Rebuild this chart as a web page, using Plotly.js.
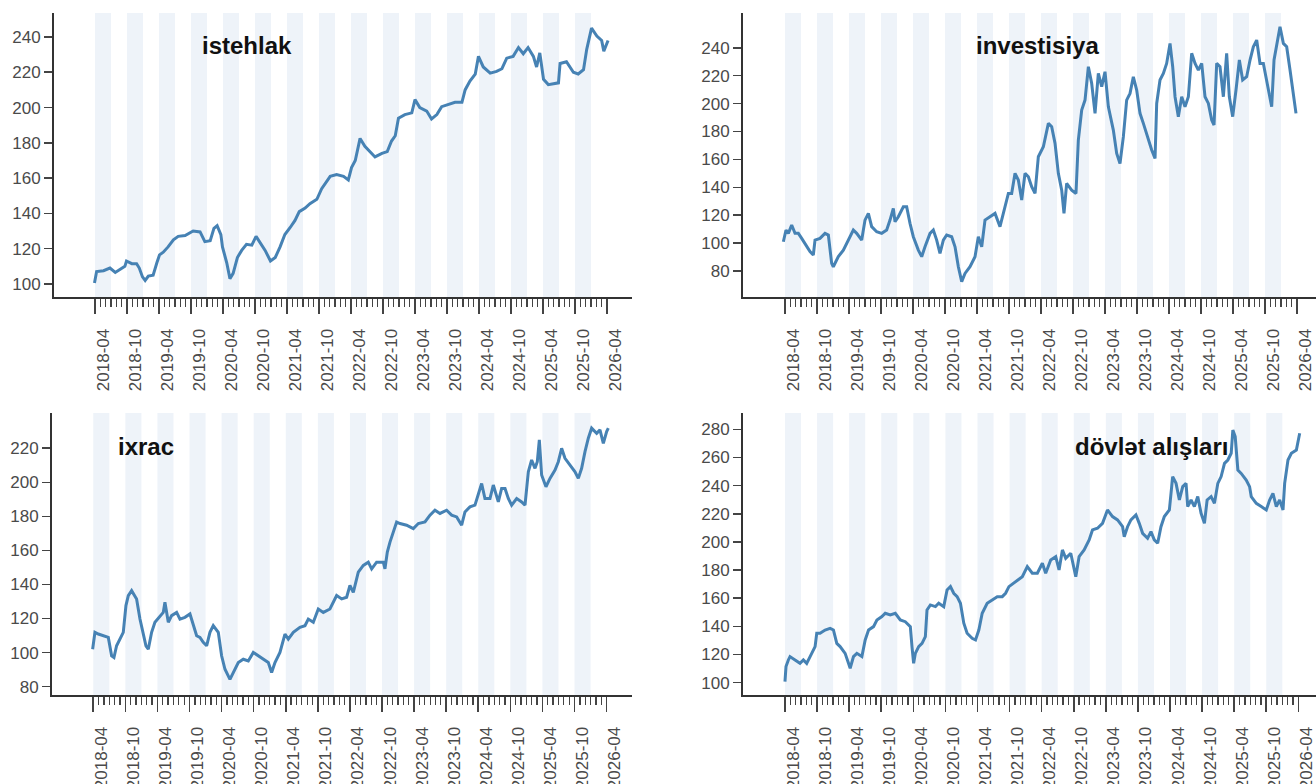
<!DOCTYPE html>
<html>
<head>
<meta charset="utf-8">
<script src="https://cdn.plot.ly/plotly-3.0.1.min.js"></script>
<style>
html,body{margin:0;padding:0;background:#fff;}
#chart{width:1316px;height:784px;}
</style>
</head>
<body>
<div id="chart"></div>
<script>
// time axis: months since 2018-04
const tickMonths = [0,6,12,18,24,30,36,42,48,54,60,66,72,78,84,90,96];
const tickLabels = ['2018-04','2018-10','2019-04','2019-10','2020-04','2020-10','2021-04','2021-10','2022-04','2022-10','2023-04','2023-10','2024-04','2024-10','2025-04','2025-10','2026-04'];

const seriesNames = ['istehlak','investisiya','ixrac','dövlət alışları'];

const istehlakTicks = [100,120,140,160,180,200,220,240];
const investisiyaTicks = [80,100,120,140,160,180,200,220,240];
const ixracTicks = [80,100,120,140,160,180,200,220];
const dovletTicks = [100,120,140,160,180,200,220,240,260,280];

const istehlakMonths = [-0.1,0.3,1.6,2.8,3.8,4.7,5.6,5.9,6.9,7.8,8.3,8.9,9.4,10.0,10.9,11.6,12.1,12.8,13.7,14.7,15.6,16.9,18.4,19.7,20.6,21.6,22.3,22.9,23.6,23.9,24.7,25.3,25.9,26.7,27.5,28.4,29.4,30.2,30.9,31.9,32.9,33.8,34.7,35.6,36.6,37.5,38.3,39.4,40.3,41.6,42.5,43.7,44.1,45.3,46.6,47.5,48.1,48.8,49.7,50.6,51.6,52.5,53.8,54.8,55.6,56.3,56.9,58.1,59.4,60.0,60.9,62.2,63.1,64.1,65.0,66.2,67.5,68.8,69.4,70.3,71.3,71.9,72.8,74.1,75.3,76.3,77.2,78.4,79.4,80.3,81.2,82.2,82.8,83.4,84.1,85.0,85.9,86.9,87.2,88.4,89.7,90.6,91.6,92.2,93.1,94.1,95.0,95.4,96.2];
const istehlakValues = [100.5,107,107.5,109,106.5,108.5,110,113,111.5,111.5,109,104,102,104.5,105,112,116.5,118,121,125,127,127.5,130,129.5,124,124.5,131.5,133,128,121,112,103,106,115,119,122.5,122,127,124,119,113,115,121,128,132,136,141,143,145.5,148,154,159,161,162,161,159,166,170,182.5,178,175,172,174,175,181,184,194,196,197,204.5,200,198,193.5,196,200.5,201.5,203,203,210,215,219,229,223,219.5,220.5,222,228,229,234,230.5,234,229,223,231,216,213,213.5,214,225,226,220,219,221.5,233,245,240.5,238,232,238];

const investisiyaMonths = [-0.31,0.19,0.63,1.25,1.88,2.5,3.13,4.06,4.69,5.31,5.63,6.56,7.5,8.13,8.75,9.06,10.0,10.94,11.88,12.81,13.44,14.38,15.0,15.63,16.25,17.19,18.13,19.06,19.69,20.31,20.63,21.25,22.19,22.81,23.44,24.06,25.0,25.63,26.25,27.19,27.81,28.44,29.06,29.69,30.31,31.25,31.88,32.5,33.13,33.75,34.69,35.63,36.25,36.88,37.5,38.44,39.38,40.31,40.94,41.88,42.5,43.13,43.75,44.38,45.0,45.63,46.25,46.88,47.5,48.44,49.38,50.0,50.63,51.25,51.88,52.31,52.81,53.75,54.56,55.0,55.63,56.25,56.88,57.5,58.13,58.75,59.38,60.0,60.63,61.56,62.19,62.81,63.44,64.06,64.69,65.31,65.94,66.56,67.19,68.13,68.75,69.38,69.69,70.31,70.94,71.56,72.19,72.69,73.13,73.75,74.38,75.0,75.63,76.25,76.88,77.5,78.13,78.75,79.38,80.0,80.44,80.94,81.56,82.19,82.81,83.31,83.94,84.56,85.19,85.81,86.56,87.19,87.81,88.44,89.06,89.69,90.31,91.25,91.69,92.31,92.81,93.44,94.06,94.69,95.31,95.81];
const investisiyaValues = [101.0,109.4,107.0,113.0,107.0,107.0,103.4,97.4,93.9,91.5,102.2,103.4,107.0,105.8,85.5,83.1,90.3,95.0,102.2,109.4,107.0,102.2,116.5,121.3,111.8,108.2,107.0,109.4,116.5,124.9,115.3,118.9,126.1,126.1,114.2,104.6,95.0,90.3,97.4,107.0,109.4,102.2,92.7,102.2,105.8,104.6,97.4,83.1,72.4,78.3,83.1,90.3,104.6,97.4,116.5,118.9,121.3,111.8,121.3,135.6,135.6,150.0,145.2,130.9,150.0,147.6,140.4,135.6,161.9,169.1,185.8,183.4,171.5,150.0,138.0,121.3,142.8,138.0,135.6,173.9,195.4,202.5,226.4,214.5,193.0,221.6,212.1,222.8,197.7,181.0,164.3,157.1,176.3,202.5,207.3,219.2,209.7,193.0,185.8,173.9,166.7,160.7,200.1,216.9,221.6,228.8,243.1,226.4,204.9,190.6,204.9,197.7,204.9,236.0,228.8,224.0,228.8,204.9,200.1,188.2,184.6,228.8,226.4,204.9,236.0,204.9,190.6,209.7,231.2,216.9,219.2,231.2,240.7,245.5,228.8,228.8,216.9,197.7,231.2,245.5,255.1,243.1,240.7,224.0,207.3,193.0];

const ixracMonths = [-0.12,0.31,0.94,1.87,2.81,3.43,3.87,4.36,4.99,5.61,6.11,6.55,7.17,8.1,8.73,9.35,9.85,10.29,10.91,11.53,12.47,13.09,13.4,14.03,14.65,15.59,16.21,17.14,18.08,18.7,19.33,19.95,20.57,21.2,21.82,22.44,23.38,24.0,24.63,25.56,26.18,27.12,28.05,28.99,29.93,30.86,31.8,32.73,33.35,33.98,34.91,35.85,36.47,37.41,38.65,39.59,40.21,41.15,42.08,43.02,44.26,45.51,46.45,47.38,48.0,48.63,49.56,50.5,51.43,52.06,52.99,54.24,54.55,54.99,55.49,56.11,56.73,57.36,58.6,59.85,60.79,62.03,62.97,63.9,64.84,66.08,67.02,67.96,68.89,69.51,70.45,71.38,72.01,72.63,73.25,74.19,74.81,75.75,76.37,77.0,77.62,78.24,79.18,80.11,80.74,81.36,81.98,82.61,83.04,83.42,83.85,84.66,85.41,86.35,86.97,87.59,88.22,89.15,90.09,90.71,91.33,91.96,92.58,93.2,94.14,94.76,95.39,96.01,96.32];
const ixracValues = [102.0,111.9,110.9,109.9,108.9,98.1,97.1,104.0,107.9,111.9,127.6,133.5,136.4,131.5,119.7,111.9,104.0,102.0,111.9,117.8,121.7,123.6,129.5,117.8,121.7,123.6,119.7,120.7,122.7,115.8,109.9,108.9,106.0,104.0,111.9,115.8,111.9,98.1,90.2,84.3,88.3,94.2,96.1,95.1,100.1,98.1,96.1,94.2,88.3,94.2,100.1,110.9,107.9,111.9,114.8,115.8,119.7,117.8,125.6,123.6,125.6,133.5,131.5,132.5,139.4,135.4,147.2,151.2,153.1,149.2,153.1,153.1,149.2,159.0,164.9,170.8,176.7,175.8,174.8,172.8,175.8,176.7,180.7,183.6,181.7,183.6,180.7,179.7,174.8,182.6,185.6,186.6,192.5,199.3,190.5,190.5,198.4,188.5,196.4,196.4,190.5,186.6,190.5,188.5,186.6,206.2,213.1,208.2,212.1,224.9,204.3,197.4,202.3,207.2,212.1,220.0,214.1,210.2,206.2,202.3,208.2,218.0,225.9,231.8,228.8,230.8,222.9,229.8,231.8];

const dovletMonths = [0,0.19,0.63,0.94,1.88,2.81,3.44,4.06,5.0,5.63,5.94,6.56,7.5,8.44,9.06,9.69,10.31,11.25,11.88,12.19,12.81,13.44,14.38,15.0,15.63,16.56,17.19,18.13,18.75,19.69,20.63,21.56,22.5,23.44,23.75,24.06,24.38,25.0,25.63,26.25,26.56,27.19,28.13,28.75,29.69,30.31,30.94,31.56,32.19,32.81,33.44,34.06,35.0,35.63,36.25,36.88,37.81,38.75,39.69,40.63,41.25,41.88,43.13,44.38,45.31,46.25,47.19,48.13,48.75,49.69,50.63,51.25,51.88,52.5,53.44,54.38,55.0,55.94,56.88,57.5,58.44,59.38,60.31,61.25,62.19,63.13,63.44,64.06,64.69,65.63,66.25,66.88,67.81,68.44,69.06,69.69,70.31,70.94,71.88,72.5,73.13,73.75,74.38,75.0,75.31,75.94,76.56,77.19,77.81,78.44,78.94,79.69,80.31,80.94,81.56,82.19,82.81,83.44,83.75,84.19,84.69,85.31,86.25,86.88,87.19,88.13,89.06,90.0,90.63,91.25,91.88,92.5,93.13,93.44,94.06,94.69,95.63,96.25];
const dovletValues = [100.7,111.4,116.1,118.5,116.1,113.7,116.1,113.7,120.8,125.6,135.1,135.1,137.4,138.6,137.4,127.9,125.6,120.8,113.7,110.2,118.5,120.8,118.5,130.3,137.4,139.8,144.5,146.9,149.3,148.1,149.3,144.5,143.3,139.8,125.6,113.7,120.8,125.6,127.9,132.7,151.6,155.2,154.0,156.4,154.0,165.8,168.2,163.5,161.1,156.4,142.2,135.1,131.5,130.3,137.4,149.3,156.4,158.7,161.1,161.1,163.5,168.2,171.8,175.3,182.4,177.7,177.7,184.8,177.7,187.2,189.5,180.1,194.3,188.3,191.9,175.3,189.5,194.3,201.4,208.5,209.7,213.2,222.7,218.0,215.6,210.8,203.7,210.8,215.6,219.1,213.2,206.1,202.6,207.3,201.4,199.0,210.8,218.0,222.7,246.4,241.6,229.8,239.3,241.6,225.1,229.8,225.1,232.2,220.3,213.2,229.8,232.2,227.4,241.6,246.4,255.8,258.2,263.0,279.5,274.8,251.1,248.7,244.0,239.3,232.2,227.4,225.1,222.7,229.8,234.5,225.1,229.8,222.7,241.6,258.2,263.0,265.3,277.2];

const W = 1316, H = 784;
const px = v => v / W;
const py = v => 1 - v / H;

const panels = [
  {name: seriesNames[0], xs: istehlakMonths, ys: istehlakValues, yt: istehlakTicks,
   xdom: [px(54), px(632)], ydom: [py(297), py(13)], xr: [-7.69, 100.69], yr: [92.6, 253.6],
   title: [px(247.5), py(46)]},
  {name: seriesNames[1], xs: investisiyaMonths, ys: investisiyaValues, yt: investisiyaTicks,
   xdom: [px(743), 1], ydom: [py(297), py(13)], xr: [-7.875, 99.56], yr: [61.4, 264.9],
   title: [px(1037.5), py(46)]},
  {name: seriesNames[2], xs: ixracMonths, ys: ixracValues, yt: ixracTicks,
   xdom: [px(52), px(632)], ydom: [py(695), py(413)], xr: [-7.72, 100.75], yr: [75.1, 240.7],
   title: [px(146), py(446)]},
  {name: seriesNames[3], xs: dovletMonths, ys: dovletValues, yt: dovletTicks,
   xdom: [px(743), 1], ydom: [py(695), py(413)], xr: [-7.85, 99.3], yr: [91.2, 291.6],
   title: [px(1151.5), py(446)]}
];

const FONT = 'Liberation Sans, Arial, sans-serif';
const minorVals = [];
for (let m = 1; m < 96; m++) if (m % 6 !== 0) minorVals.push(m);

const traces = [];
const layout = {
  width: W, height: H,
  margin: {l: 0, r: 0, t: 0, b: 0},
  paper_bgcolor: '#ffffff', plot_bgcolor: 'rgba(0,0,0,0)',
  showlegend: false,
  font: {family: FONT, color: '#4a4a4a'},
  shapes: [], annotations: []
};

panels.forEach((p, i) => {
  const n = i + 1;
  const xk = 'xaxis' + (n === 1 ? '' : n), yk = 'yaxis' + (n === 1 ? '' : n);
  const xr = 'x' + (n === 1 ? '' : n), yr = 'y' + (n === 1 ? '' : n);
  traces.push({
    type: 'scatter', mode: 'lines', x: p.xs, y: p.ys,
    xaxis: xr, yaxis: yr,
    line: {color: '#4682B4', width: 3},
    hoverinfo: 'skip'
  });
  layout[xk] = {
    domain: p.xdom, anchor: yr, range: p.xr, fixedrange: true,
    showgrid: false, zeroline: false,
    showline: true, linecolor: '#333333', linewidth: 2,
    ticks: 'outside', ticklen: 15, tickwidth: 1.6, tickcolor: '#444444',
    tickmode: 'array', tickvals: tickMonths, ticktext: tickLabels,
    tickangle: -90, ticklabelshift: 8, ticklabelstandoff: 8,
    tickfont: {family: FONT, size: 17, color: '#4a4a4a'},
    minor: {tickmode: 'array', tickvals: minorVals, ticks: 'outside', ticklen: 8, tickwidth: 1.3, tickcolor: '#444444', showgrid: false}
  };
  layout[yk] = {
    domain: p.ydom, anchor: xr, range: p.yr, fixedrange: true,
    showgrid: false, zeroline: false,
    showline: true, linecolor: '#333333', linewidth: 2,
    ticks: 'outside', ticklen: 8, tickwidth: 1.6, tickcolor: '#444444',
    tickmode: 'array', tickvals: p.yt, ticktext: p.yt.map(String),
    tickfont: {family: FONT, size: 17, color: '#4a4a4a'}
  };
  for (let k = 0; k < 16; k++) {
    layout.shapes.push({
      type: 'rect', xref: xr, yref: yr + ' domain', layer: 'below',
      x0: 6 * k, x1: 6 * k + 3, y0: 0, y1: 1,
      fillcolor: '#EEF3F9', line: {width: 0}
    });
  }
  layout.annotations.push({
    xref: 'paper', yref: 'paper', x: p.title[0], y: p.title[1],
    xanchor: 'center', yanchor: 'middle', showarrow: false,
    text: '<b>' + p.name + '</b>',
    font: {family: FONT, size: 24, color: '#111111'}
  });
});

Plotly.newPlot('chart', traces, layout, {displayModeBar: false, staticPlot: true});
</script>
</body>
</html>
